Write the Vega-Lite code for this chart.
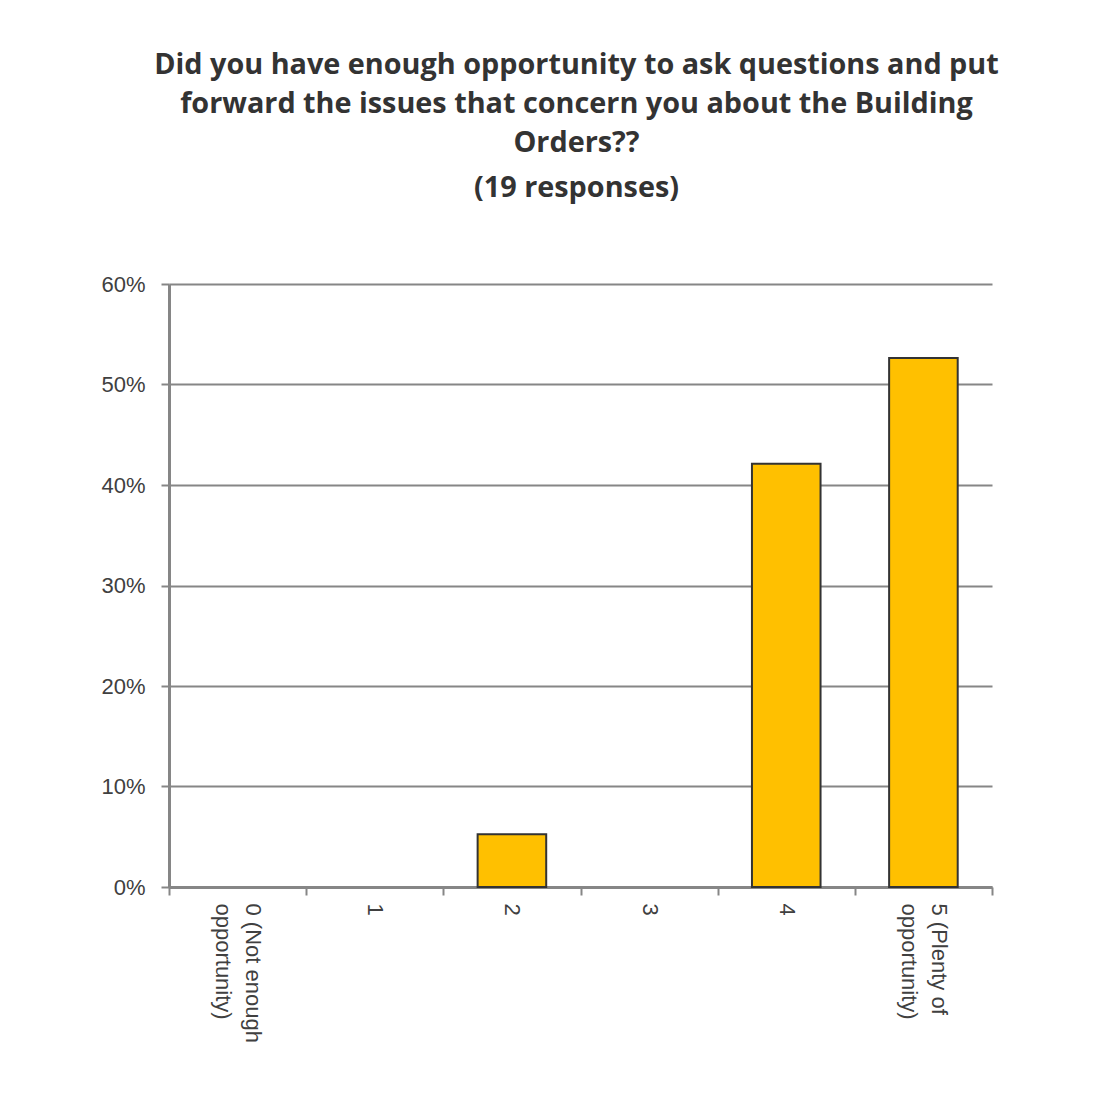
{
  "$schema": "https://vega.github.io/schema/vega-lite/v6.json",
  "padding": {"left": 100, "top": 51, "right": 10, "bottom": 10},
  "width": 823,
  "height": 603,
  "background": "white",
  "title": {
    "text": ["Did you have enough opportunity to ask questions and put", "forward the issues that concern you about the Building", "Orders??"],
    "subtitle": "(19 responses)",
    "font": "Open Sans",
    "fontSize": 28.8,
    "fontWeight": "bold",
    "color": "#333333",
    "lineHeight": 39,
    "subtitleFont": "Open Sans",
    "subtitleFontSize": 28.8,
    "subtitleFontWeight": "bold",
    "subtitleColor": "#333333",
    "subtitleLineHeight": 39,
    "subtitlePadding": 16,
    "anchor": "middle",
    "dx": -4,
    "offset": 70
  },
  "data": {
    "values": [
      {"category": "0 (Not enough opportunity)", "share": 0},
      {"category": "1", "share": 0},
      {"category": "2", "share": 0.0526},
      {"category": "3", "share": 0},
      {"category": "4", "share": 0.4211},
      {"category": "5 (Plenty of opportunity)", "share": 0.5263}
    ]
  },
  "mark": {"type": "bar", "fill": "#FFC000", "stroke": "#333333", "width": {"band": 0.5}},
  "encoding": {
    "strokeWidth": {"condition": {"test": "datum.share == 0", "value": 0}, "value": 2},
    "x": {
      "field": "category",
      "type": "nominal",
      "sort": null,
      "scale": {"paddingInner": 0, "paddingOuter": 0},
      "axis": {
        "title": null,
        "labelAngle": 90,
        "labelAlign": "left",
        "labelBaseline": "middle",
        "labelFont": "Liberation Sans",
        "labelFontSize": 22,
        "labelColor": "#404040",
        "labelPadding": 8,
        "labelOffset": {"condition": {"test": "datum.value == '0 (Not enough opportunity)' || datum.value == '5 (Plenty of opportunity)'", "value": 15}, "value": 0},
        "labelLineHeight": 30,
        "labelLimit": 0,
        "labelExpr": "datum.value == '0 (Not enough opportunity)' ? ['0 (Not enough', 'opportunity)'] : datum.value == '5 (Plenty of opportunity)' ? ['5 (Plenty of', 'opportunity)'] : datum.value",
        "tickBand": "extent",
        "tickSize": 8,
        "tickColor": "#868686",
        "tickWidth": 2,
        "domainColor": "#868686",
        "domainWidth": 3,
        "grid": false
      }
    },
    "y": {
      "field": "share",
      "type": "quantitative",
      "scale": {"domain": [0, 0.6], "nice": false},
      "axis": {
        "title": null,
        "format": ".0%",
        "values": [0, 0.1, 0.2, 0.3, 0.4, 0.5, 0.6],
        "labelFont": "Liberation Sans",
        "labelFontSize": 22,
        "labelColor": "#404040",
        "labelPadding": 16,
        "tickSize": 8,
        "tickColor": "#868686",
        "tickWidth": 2,
        "domainColor": "#868686",
        "domainWidth": 3,
        "grid": true,
        "gridColor": "#868686",
        "gridWidth": 2
      }
    }
  },
  "config": {"view": {"stroke": null}}
}
